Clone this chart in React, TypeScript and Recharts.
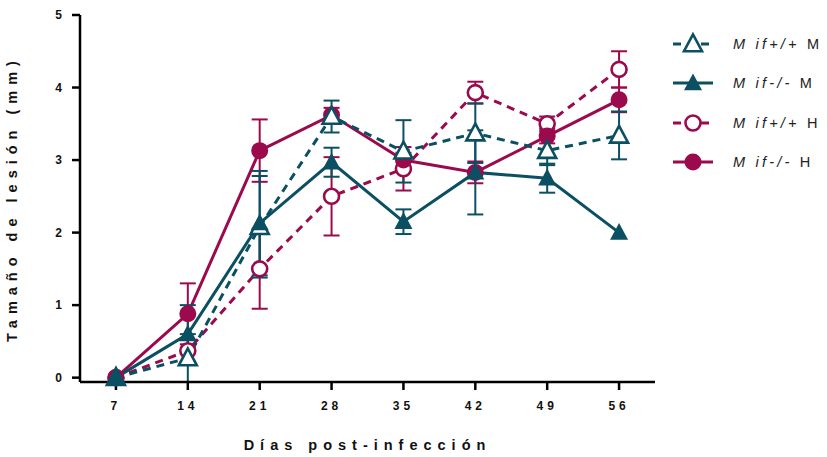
import React from 'react';
import { LineChart, Line, XAxis, YAxis, ErrorBar } from 'recharts';

const TEAL = '#0b5062';
const CRIMSON = '#9c0a4e';

const days = [7, 14, 21, 28, 35, 42, 49, 56];
const yTicks = [0, 1, 2, 3, 4, 5];

const mifWtM = [0, 0.27, 2.08, 3.6, 3.12, 3.37, 3.13, 3.34];
const mifWtMErr = [null, 0.33, 0.7, 0.22, 0.43, 0.41, 0.2, 0.33];
const mifKoM = [0, 0.6, 2.13, 2.97, 2.15, 2.83, 2.75, 2.0];
const mifKoMErr = [null, 0.4, 0.72, 0.2, 0.17, 0.58, 0.2, null];
const mifWtH = [0, 0.37, 1.5, 2.5, 2.88, 3.93, 3.5, 4.25];
const mifWtHErr = [null, 0.15, 0.55, 0.54, 0.3, 0.15, 0.1, 0.25];
const mifKoH = [0, 0.88, 3.13, 3.62, 3.0, 2.83, 3.33, 3.83];
const mifKoHErr = [null, 0.42, 0.43, 0.1, 0.1, 0.15, 0.1, 0.17];

const data = days.map((d, i) => ({
  day: d,
  wtM: mifWtM[i], wtMErr: mifWtMErr[i],
  koM: mifKoM[i], koMErr: mifKoMErr[i],
  wtH: mifWtH[i], wtHErr: mifWtHErr[i],
  koH: mifKoH[i], koHErr: mifKoHErr[i],
}));

const series = [
  { key: 'wtM', name: 'if+/+', tail: 'M', color: TEAL, dashed: true, shape: 'triangle', filled: false },
  { key: 'koM', name: 'if-/-', tail: 'M', color: TEAL, dashed: false, shape: 'triangle', filled: true },
  { key: 'wtH', name: 'if+/+', tail: 'H', color: CRIMSON, dashed: true, shape: 'circle', filled: false },
  { key: 'koH', name: 'if-/-', tail: 'H', color: CRIMSON, dashed: false, shape: 'circle', filled: true },
];

const FONT = '"Liberation Sans", Arial, sans-serif';

function Marker({ cx, cy, shape, filled, color }: any) {
  if (shape === 'triangle') {
    const h = 16, w = 18;
    const pts = `${cx},${cy - h * 0.6} ${cx - w / 2},${cy + h * 0.45} ${cx + w / 2},${cy + h * 0.45}`;
    return filled
      ? <polygon points={pts} fill={color} />
      : <polygon points={pts} fill="#fff" stroke={color} strokeWidth={2.6} strokeLinejoin="miter" />;
  }
  return filled
    ? <circle cx={cx} cy={cy} r={8.5} fill={color} />
    : <circle cx={cx} cy={cy} r={7.5} fill="#fff" stroke={color} strokeWidth={2.6} />;
}

// legend drawn beside the chart so it does not shrink the plot area
function SeriesLegend() {
  return (
    <div style={{ position: 'absolute', left: 671, top: 24, fontFamily: FONT }}>
      {series.map((s) => (
        <div key={s.key} style={{ display: 'flex', alignItems: 'center', height: 39.5 }}>
          <svg width={62} height={24}>
            <line x1={2} y1={12} x2={42} y2={12} stroke={s.color} strokeWidth={3}
              strokeDasharray={s.dashed ? '8 6' : undefined} />
            <Marker cx={22} cy={12} shape={s.shape} filled={s.filled} color={s.color} />
          </svg>
          <span style={{ fontSize: 14.5, letterSpacing: 3.2, color: '#222', whiteSpace: 'nowrap' }}>
            <i>M {s.name}</i> {s.tail}
          </span>
        </div>
      ))}
    </div>
  );
}

const tickStyle = { fontSize: 12, fontWeight: 700, fill: '#111', letterSpacing: 4, fontFamily: FONT };

export default function App() {
  return (
    <div style={{ position: 'absolute', left: 0, top: 0, width: 827, height: 457, background: '#fff' }}>
      <LineChart width={827} height={457} data={data}
        margin={{ top: 15, right: 172, left: 0, bottom: 0 }}>
        <XAxis dataKey="day" type="number" domain={[3.5, 59.5]} ticks={days}
          axisLine={{ stroke: '#000', strokeWidth: 2.5 }} tickLine={{ stroke: '#000', strokeWidth: 2.5 }}
          tickSize={8} tickMargin={11} height={75} tick={tickStyle}
          label={{ value: 'Días post-infección', position: 'insideBottom', offset: 7,
            style: { fontSize: 14.5, fontWeight: 700, fill: '#111', letterSpacing: 6, fontFamily: FONT } }} />
        <YAxis type="number" domain={[0, 5]} ticks={yTicks} width={80}
          axisLine={{ stroke: '#000', strokeWidth: 2.5 }} tickLine={{ stroke: '#000', strokeWidth: 2.5 }}
          tickSize={8} tickMargin={6} tick={tickStyle}
          label={{ value: 'Tamaño de lesión (mm)', angle: -90, position: 'insideLeft', offset: 12,
            style: { textAnchor: 'middle', fontSize: 14.5, fontWeight: 700, fill: '#111', letterSpacing: 6, fontFamily: FONT } }} />
        {[series[2], series[3], series[0], series[1]].map((s) => (
          <Line key={s.key} dataKey={s.key} type="linear" stroke={s.color} strokeWidth={3}
            strokeDasharray={s.dashed ? '8 6' : undefined} isAnimationActive={false}
            dot={(p: any) => <Marker key={`${s.key}-${p.index}`} cx={p.cx} cy={p.cy} shape={s.shape} filled={s.filled} color={s.color} />}
            activeDot={false}>
            <ErrorBar dataKey={`${s.key}Err`} width={8} stroke={s.color} strokeWidth={2} direction="y" />
          </Line>
        ))}
      </LineChart>
      <SeriesLegend />
    </div>
  );
}
